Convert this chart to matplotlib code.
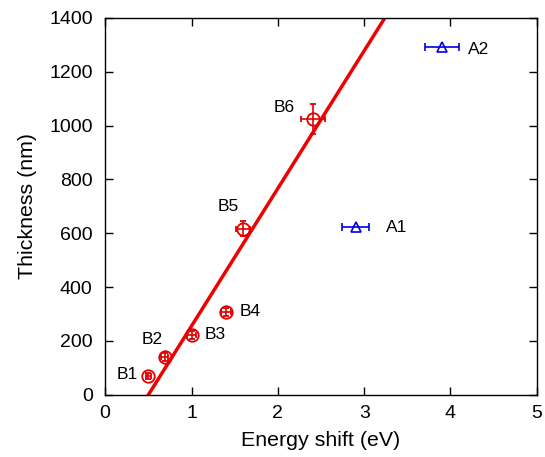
import matplotlib
matplotlib.use("Agg")
import matplotlib.pyplot as plt
import numpy as np

plt.rcParams['font.family'] = ['Liberation Sans', 'DejaVu Sans']

# B series (red circles)
b_labels = ["B1", "B2", "B3", "B4", "B5", "B6"]
b_x = [0.50, 0.69, 1.00, 1.40, 1.60, 2.41]
b_y = [70, 141, 223, 308, 616, 1025]
b_xerr = [0.03, 0.04, 0.05, 0.06, 0.08, 0.14]
b_yerr = [12, 15, 15, 15, 28, 55]

# A series (blue triangles)
a_labels = ["A1", "A2"]
a_x = [2.90, 3.90]
a_y = [622, 1292]
a_xerr = [0.16, 0.20]

# linear fit
fit_slope = 511.0
fit_x0 = 0.5
fit_x = [0.5, 3.3]

fig = plt.figure(figsize=(5.45, 4.57), dpi=100)
ax = fig.add_axes([0.193, 0.136, 0.792, 0.825])

fx = np.array(fit_x)
ax.plot(fx, fit_slope * (fx - fit_x0), color='#f00000', lw=2.5, zorder=2)

ax.errorbar(b_x, b_y, xerr=b_xerr, yerr=b_yerr, fmt='o', ms=9, mfc='none',
            mec='#e00000', mew=1.3, ecolor='#e00000', elinewidth=1.2,
            capsize=2.5, capthick=1.2, zorder=3)
ax.errorbar(a_x, a_y, xerr=a_xerr, fmt='^', ms=7.5, mfc='none',
            mec='#0000dd', mew=1.2, ecolor='#0000dd', elinewidth=1.2,
            capsize=3, capthick=1.2, zorder=3)

b_off = [(-0.24, 5), (-0.15, 63), (0.27, 0), (0.28, 0), (-0.17, 82), (-0.34, 41)]
for lab, x, y, (dx, dy) in zip(b_labels, b_x, b_y, b_off):
    ax.text(x + dx, y + dy, lab, fontsize=12.5, ha='center', va='center')
a_off = [(0.48, 0), (0.43, -10)]
for lab, x, y, (dx, dy) in zip(a_labels, a_x, a_y, a_off):
    ax.text(x + dx, y + dy, lab, fontsize=12.5, ha='center', va='center')

ax.set_xlim(0, 5)
ax.set_ylim(0, 1400)
ax.set_xticks([0, 1, 2, 3, 4, 5])
ax.set_yticks(np.arange(0, 1401, 200))
ax.tick_params(direction='in', top=True, right=True, length=6, width=1,
               labelsize=14)
ax.tick_params(axis='y', pad=9)
ax.tick_params(axis='x', pad=7)
for s in ax.spines.values():
    s.set_linewidth(1.0)
ax.set_xlabel("Energy shift (eV)", fontsize=15.4, labelpad=7)
ax.set_ylabel("Thickness (nm)", fontsize=15.4, labelpad=9)

fig.savefig("out.png", dpi=100)
